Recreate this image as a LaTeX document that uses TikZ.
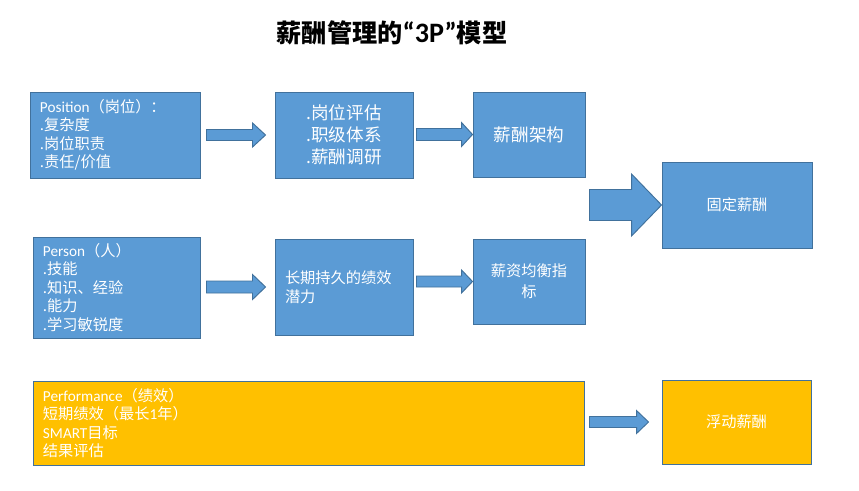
\documentclass[tikz,border=0pt]{standalone}
\usepackage{fontspec}
\setmainfont{Noto Sans CJK SC}
\newfontfamily\calib{Carlito}
\usepackage{tikz}
\usetikzlibrary{calc}
\usepackage{xcolor}
\definecolor{cBlue}{RGB}{91,155,213}
\definecolor{cBlueLine}{RGB}{65,113,156}
\definecolor{cGold}{RGB}{255,192,0}

\tikzset{
  box/.style={draw=cBlueLine, line width=0.8pt, text=white, inner sep=0pt},
  bluebox/.style={box, fill=cBlue},
  goldbox/.style={box, fill=cGold},
  listtext/.style={align=left, font=\fontsize{13}{15.8}\selectfont},
  fatarrow/.style={draw=cBlueLine, line width=0.8pt, fill=cBlue, line join=miter}
}

% block arrow: from, to, start gap, end gap, shaft half, head half, head length (px)
\newcommand{\blockarrow}[7]{%
  \draw[fatarrow] let \p1=(#1.east), \p2=(#2.west) in
    (\x1+#3*0.03cm,\y2+#5*0.03cm) -- (\x2-#4*0.03cm-#7*0.03cm,\y2+#5*0.03cm)
    -- (\x2-#4*0.03cm-#7*0.03cm,\y2+#6*0.03cm) -- (\x2-#4*0.03cm,\y2)
    -- (\x2-#4*0.03cm-#7*0.03cm,\y2-#6*0.03cm) -- (\x2-#4*0.03cm-#7*0.03cm,\y2-#5*0.03cm)
    -- (\x1+#3*0.03cm,\y2-#5*0.03cm) -- cycle;}

\begin{document}
\begin{tikzpicture}[x=0.03cm, y=-0.03cm]
  \useasboundingbox (0,0) rectangle (859,490);
  % Title
  \node[font=\fontsize{21.5}{24}\selectfont\bfseries] (title) at (392,33) {薪酬管理的{\calib\fontsize{24}{24}\selectfont “3P”}模型};
  % Position row
  \node[bluebox, listtext, minimum width=5.1cm, minimum height=2.58cm, text width=4.5cm]
    (position) at (115,135) {{\calib Position}（岗位）：\\.复杂度\\.岗位职责\\.责任/价值};
  \node[bluebox, align=left, font=\fontsize{15}{19}\selectfont, minimum width=4.14cm, minimum height=2.58cm]
    (gangwei) at (344,135) {.岗位评估\\.职级体系\\.薪酬调研};
  \node[bluebox, font=\fontsize{15}{19}\selectfont, minimum width=3.36cm, minimum height=2.55cm]
    (jiagou) at (529,134.5) {薪酬架构};
  % Person row
  \node[bluebox, listtext, minimum width=5.01cm, minimum height=3.03cm, text width=4.41cm]
    (person) at (116.5,287.5) {{\calib Person}（人）\\.技能\\.知识、经验\\.能力\\.学习敏锐度};
  \node[bluebox, listtext, minimum width=4.14cm, minimum height=2.88cm, text width=3.54cm]
    (qianli) at (344,287) {长期持久的绩效\\潜力};
  \node[bluebox, align=center, font=\fontsize{13}{18}\selectfont, minimum width=3.36cm, minimum height=2.55cm]
    (junheng) at (529,281.5) {薪资均衡指\\标};
  % Fixed pay
  \node[bluebox, font=\fontsize{13}{16}\selectfont, minimum width=4.5cm, minimum height=2.58cm]
    (guding) at (737,205) {固定薪酬};
  % Performance row
  \node[goldbox, listtext, minimum width=16.53cm, minimum height=2.52cm, text width=15.93cm]
    (perf) at (308.5,423) {{\calib Performance}（绩效）\\短期绩效（最长{\calib 1}年）\\{\calib SMART}目标\\结果评估};
  \node[goldbox, font=\fontsize{13}{16}\selectfont, minimum width=4.47cm, minimum height=2.52cm]
    (fudong) at (736.5,422) {浮动薪酬};
  % Arrows
  \blockarrow{position}{gangwei}{6}{9}{5.5}{12}{13}
  \blockarrow{gangwei}{jiagou}{3}{0}{6}{12}{11}
  \blockarrow{person}{qianli}{6}{9}{6}{12.5}{13}
  \blockarrow{qianli}{junheng}{3}{0}{5.5}{11.5}{11}
  \blockarrow{jiagou}{guding}{4}{0}{15.5}{31}{30}
  \blockarrow{perf}{fudong}{5}{13}{5.5}{11.5}{12}
\end{tikzpicture}
\end{document}
